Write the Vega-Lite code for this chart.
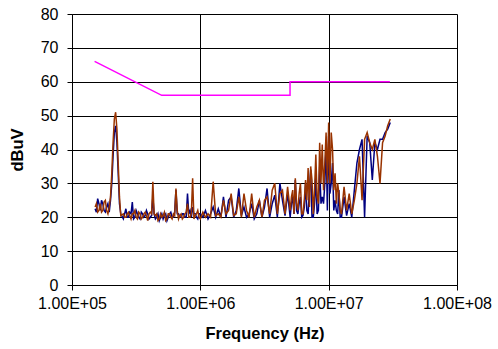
{
  "$schema": "https://vega.github.io/schema/vega-lite/v6.json",
  "width": 385,
  "height": 271,
  "autosize": "none",
  "padding": {"left": 72, "top": 14, "right": 41, "bottom": 64},
  "config": {
    "view": {"stroke": null},
    "font": "Liberation Sans",
    "axis": {
      "labelFont": "Liberation Sans",
      "titleFont": "Liberation Sans",
      "labelColor": "#000000",
      "titleColor": "#000000",
      "domainColor": "#000000",
      "tickColor": "#000000",
      "gridColor": "#000000",
      "gridOpacity": 1,
      "gridWidth": 1,
      "tickSize": 5,
      "labelFontSize": 16,
      "titleFontSize": 16.5,
      "titleFontWeight": "bold",
      "labelOverlap": false,
      "labelFlush": false
    }
  },
  "datasets": {
    "meas": [
      {"f": 151400, "a": 22.5, "b": 23},
      {"f": 154900, "a": 21.5, "b": 24},
      {"f": 158500, "a": 25.5, "b": 21.5},
      {"f": 162200, "a": 24, "b": 22},
      {"f": 166000, "a": 22, "b": 24},
      {"f": 169800, "a": 25, "b": 21.5},
      {"f": 173800, "a": 24, "b": 22},
      {"f": 177800, "a": 22, "b": 24.5},
      {"f": 182000, "a": 21.5, "b": 25},
      {"f": 186200, "a": 23, "b": 22},
      {"f": 190500, "a": 24, "b": 21},
      {"f": 195000, "a": 21.5, "b": 23},
      {"f": 199500, "a": 25, "b": 26},
      {"f": 204200, "a": 30, "b": 33},
      {"f": 208900, "a": 38, "b": 42},
      {"f": 213800, "a": 45, "b": 49},
      {"f": 218800, "a": 47, "b": 51},
      {"f": 223900, "a": 42, "b": 46},
      {"f": 229100, "a": 33, "b": 36},
      {"f": 234400, "a": 24, "b": 26},
      {"f": 239900, "a": 21, "b": 20.5},
      {"f": 251200, "a": 19.5, "b": 21},
      {"f": 257000, "a": 21, "b": 20},
      {"f": 263000, "a": 22.5, "b": 20},
      {"f": 269200, "a": 20, "b": 21},
      {"f": 275400, "a": 20, "b": 21.5},
      {"f": 281800, "a": 21.5, "b": 20.5},
      {"f": 288400, "a": 21, "b": 19.5},
      {"f": 295100, "a": 24.5, "b": 21},
      {"f": 302000, "a": 19.5, "b": 21},
      {"f": 309000, "a": 20, "b": 22},
      {"f": 316200, "a": 22, "b": 20},
      {"f": 323600, "a": 21, "b": 19.5},
      {"f": 331100, "a": 20, "b": 21.5},
      {"f": 338800, "a": 19.5, "b": 21},
      {"f": 346700, "a": 21.5, "b": 19.5},
      {"f": 354800, "a": 21, "b": 20},
      {"f": 363100, "a": 20, "b": 21},
      {"f": 371500, "a": 20.5, "b": 21.5},
      {"f": 380200, "a": 22, "b": 20.5},
      {"f": 389000, "a": 21, "b": 19},
      {"f": 398100, "a": 19.5, "b": 21},
      {"f": 407400, "a": 20, "b": 21.5},
      {"f": 416900, "a": 20.5, "b": 21},
      {"f": 426600, "a": 26, "b": 30.5},
      {"f": 436500, "a": 21, "b": 21},
      {"f": 446700, "a": 19.5, "b": 20.5},
      {"f": 457100, "a": 20, "b": 21},
      {"f": 467700, "a": 21, "b": 19},
      {"f": 478600, "a": 19, "b": 19.5},
      {"f": 489800, "a": 20, "b": 21},
      {"f": 501200, "a": 21, "b": 20},
      {"f": 512900, "a": 19.5, "b": 20.5},
      {"f": 524800, "a": 20.5, "b": 21.5},
      {"f": 537000, "a": 21, "b": 19},
      {"f": 549500, "a": 19, "b": 19.5},
      {"f": 562300, "a": 20, "b": 21},
      {"f": 575400, "a": 21, "b": 21},
      {"f": 588800, "a": 21.5, "b": 20},
      {"f": 602600, "a": 20, "b": 19.5},
      {"f": 616600, "a": 20, "b": 21},
      {"f": 631000, "a": 21.5, "b": 20.5},
      {"f": 645700, "a": 28, "b": 28.5},
      {"f": 660700, "a": 21, "b": 22},
      {"f": 676100, "a": 21, "b": 19.5},
      {"f": 691800, "a": 20, "b": 20.5},
      {"f": 707900, "a": 20, "b": 21},
      {"f": 724400, "a": 21, "b": 19.5},
      {"f": 741300, "a": 21, "b": 20},
      {"f": 758600, "a": 20, "b": 21},
      {"f": 776200, "a": 20, "b": 21.5},
      {"f": 794300, "a": 27, "b": 24},
      {"f": 812800, "a": 21, "b": 20},
      {"f": 831800, "a": 22, "b": 20},
      {"f": 851100, "a": 20, "b": 21},
      {"f": 871000, "a": 23, "b": 31.5},
      {"f": 891300, "a": 21, "b": 19.5},
      {"f": 912000, "a": 21, "b": 20.5},
      {"f": 933300, "a": 20, "b": 21},
      {"f": 955000, "a": 19.5, "b": 22},
      {"f": 977200, "a": 21, "b": 20},
      {"f": 1000000, "a": 21, "b": 19.5},
      {"f": 1047000, "a": 20, "b": 21.5},
      {"f": 1096000, "a": 22, "b": 20},
      {"f": 1148000, "a": 19.5, "b": 21},
      {"f": 1202000, "a": 21, "b": 20},
      {"f": 1259000, "a": 23, "b": 30.5},
      {"f": 1318000, "a": 20, "b": 20.5},
      {"f": 1380000, "a": 22.5, "b": 21},
      {"f": 1445000, "a": 20, "b": 20},
      {"f": 1514000, "a": 26, "b": 25},
      {"f": 1585000, "a": 20, "b": 21},
      {"f": 1660000, "a": 25, "b": 22},
      {"f": 1738000, "a": 26, "b": 27},
      {"f": 1820000, "a": 20, "b": 20.5},
      {"f": 1905000, "a": 22, "b": 21},
      {"f": 1995000, "a": 28.5, "b": 26},
      {"f": 2089000, "a": 20.5, "b": 20},
      {"f": 2188000, "a": 23, "b": 27},
      {"f": 2291000, "a": 20, "b": 22},
      {"f": 2399000, "a": 21, "b": 20},
      {"f": 2512000, "a": 24, "b": 27},
      {"f": 2630000, "a": 19.5, "b": 20},
      {"f": 2754000, "a": 21, "b": 23},
      {"f": 2884000, "a": 25, "b": 25},
      {"f": 3020000, "a": 20, "b": 20},
      {"f": 3162000, "a": 23, "b": 25},
      {"f": 3311000, "a": 28.5, "b": 26},
      {"f": 3467000, "a": 20, "b": 21},
      {"f": 3631000, "a": 24, "b": 28},
      {"f": 3802000, "a": 26.5, "b": 30},
      {"f": 3981000, "a": 20, "b": 21},
      {"f": 4169000, "a": 30, "b": 27},
      {"f": 4365000, "a": 25, "b": 28},
      {"f": 4571000, "a": 20.5, "b": 21},
      {"f": 4786000, "a": 27, "b": 29},
      {"f": 5012000, "a": 20, "b": 22},
      {"f": 5129000, "a": 24, "b": 26},
      {"f": 5248000, "a": 26, "b": 28},
      {"f": 5370000, "a": 21, "b": 21},
      {"f": 5495000, "a": 31, "b": 31.5},
      {"f": 5623000, "a": 22, "b": 24},
      {"f": 5754000, "a": 21, "b": 22},
      {"f": 5888000, "a": 24, "b": 27},
      {"f": 6026000, "a": 26, "b": 30},
      {"f": 6166000, "a": 20, "b": 21},
      {"f": 6310000, "a": 20.5, "b": 21},
      {"f": 6457000, "a": 23, "b": 25},
      {"f": 6607000, "a": 30, "b": 31},
      {"f": 6761000, "a": 22, "b": 25},
      {"f": 6918000, "a": 21, "b": 34.5},
      {"f": 7079000, "a": 28, "b": 23},
      {"f": 7244000, "a": 34, "b": 35},
      {"f": 7413000, "a": 20, "b": 31},
      {"f": 7586000, "a": 20, "b": 21},
      {"f": 7762000, "a": 24, "b": 28},
      {"f": 7943000, "a": 32, "b": 38.5},
      {"f": 8128000, "a": 21, "b": 26},
      {"f": 8318000, "a": 22, "b": 24},
      {"f": 8511000, "a": 35, "b": 42},
      {"f": 8710000, "a": 24, "b": 30},
      {"f": 8913000, "a": 26, "b": 41.5},
      {"f": 9120000, "a": 24, "b": 28},
      {"f": 9333000, "a": 30, "b": 36},
      {"f": 9550000, "a": 42, "b": 45},
      {"f": 9772000, "a": 22, "b": 30},
      {"f": 10000000, "a": 44, "b": 48},
      {"f": 10230000, "a": 27, "b": 30},
      {"f": 10470000, "a": 30, "b": 45},
      {"f": 10720000, "a": 36, "b": 40},
      {"f": 10960000, "a": 22, "b": 28},
      {"f": 11220000, "a": 25, "b": 33},
      {"f": 11480000, "a": 22, "b": 24},
      {"f": 11750000, "a": 21, "b": 30},
      {"f": 12020000, "a": 28, "b": 27},
      {"f": 12300000, "a": 20, "b": 22},
      {"f": 12590000, "a": 20, "b": 21},
      {"f": 13180000, "a": 26, "b": 29},
      {"f": 13800000, "a": 20.5, "b": 22},
      {"f": 14450000, "a": 24, "b": 27},
      {"f": 15140000, "a": 20, "b": 21},
      {"f": 15850000, "a": 28, "b": 25},
      {"f": 16600000, "a": 36, "b": 30},
      {"f": 17380000, "a": 40, "b": 38},
      {"f": 18200000, "a": 43, "b": 25},
      {"f": 19050000, "a": 20, "b": 43},
      {"f": 19950000, "a": 44, "b": 45},
      {"f": 20890000, "a": 42, "b": 42},
      {"f": 21880000, "a": 31, "b": 40},
      {"f": 22910000, "a": 42, "b": 43},
      {"f": 23990000, "a": 40, "b": 38},
      {"f": 25120000, "a": 43, "b": 30},
      {"f": 26300000, "a": 43, "b": 42},
      {"f": 27540000, "a": 45, "b": 44},
      {"f": 28840000, "a": 46, "b": 47},
      {"f": 30200000, "a": 48, "b": 49}
    ],
    "limit": [
      {"i": 1, "f": 150000, "v": 66},
      {"i": 2, "f": 500000, "v": 56},
      {"i": 3, "f": 5000000, "v": 56},
      {"i": 4, "f": 5000000, "v": 60},
      {"i": 5, "f": 30000000, "v": 60}
    ]
  },
  "layer": [
    {
      "data": {"name": "meas"},
      "mark": {"type": "line", "color": "#000080", "strokeWidth": 1.5},
      "encoding": {
        "x": {
          "field": "f",
          "type": "quantitative",
          "title": "Frequency (Hz)",
          "scale": {"type": "log", "domain": [100000, 100000000]},
          "axis": {
            "values": [100000, 1000000, 10000000, 100000000],
            "labelExpr": "'1.00E+0' + format(log(datum.value) / LN10, '.0f')",
            "labelPadding": 5,
            "titlePadding": 14
          }
        },
        "y": {
          "field": "a",
          "type": "quantitative",
          "title": "dBuV",
          "scale": {"domain": [0, 80]},
          "axis": {
            "values": [0, 10, 20, 30, 40, 50, 60, 70, 80],
            "labelPadding": 9,
            "titlePadding": 15
          }
        }
      }
    },
    {
      "data": {"name": "meas"},
      "mark": {"type": "line", "color": "#993300", "strokeWidth": 1.5},
      "encoding": {
        "x": {
          "field": "f",
          "type": "quantitative",
          "title": "Frequency (Hz)",
          "axis": {
            "values": [100000, 1000000, 10000000, 100000000],
            "labelExpr": "'1.00E+0' + format(log(datum.value) / LN10, '.0f')",
            "labelPadding": 5,
            "titlePadding": 14
          }
        },
        "y": {
          "field": "b",
          "type": "quantitative",
          "title": "dBuV",
          "axis": {
            "values": [0, 10, 20, 30, 40, 50, 60, 70, 80],
            "labelPadding": 9,
            "titlePadding": 15
          }
        }
      }
    },
    {
      "data": {"name": "limit"},
      "mark": {"type": "line", "color": "#FF00FF", "strokeWidth": 1.5},
      "encoding": {
        "x": {
          "field": "f",
          "type": "quantitative",
          "title": "Frequency (Hz)",
          "axis": {
            "values": [100000, 1000000, 10000000, 100000000],
            "labelExpr": "'1.00E+0' + format(log(datum.value) / LN10, '.0f')",
            "labelPadding": 5,
            "titlePadding": 14
          }
        },
        "y": {
          "field": "v",
          "type": "quantitative",
          "title": "dBuV",
          "axis": {
            "values": [0, 10, 20, 30, 40, 50, 60, 70, 80],
            "labelPadding": 9,
            "titlePadding": 15
          }
        },
        "order": {"field": "i", "type": "quantitative"}
      }
    }
  ]
}
